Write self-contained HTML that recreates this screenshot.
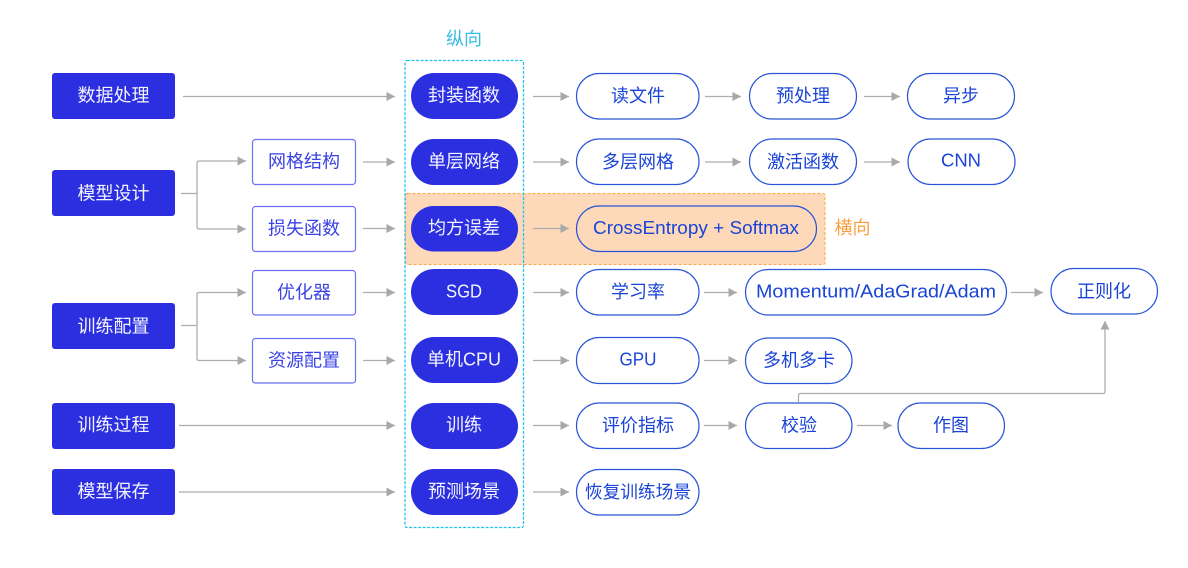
<!DOCTYPE html>
<html lang="zh">
<head>
<meta charset="utf-8">
<title>Diagram</title>
<style>
html,body{margin:0;padding:0;background:#fff;width:1188px;height:568px;overflow:hidden}
svg{display:block}
text{font-family:"Liberation Sans","Noto Sans CJK SC",sans-serif;font-size:18px;text-anchor:middle;dominant-baseline:central}
.d{fill:#2b2fe0}
.w{fill:#f4f4ff}
.b{fill:#1a44d6}
.v{fill:#3a42e6}
.p{fill:#fff;stroke:#2a55d8;stroke-width:1.2}
.po{fill:none;stroke:#2a55d8;stroke-width:1.2}
.r{fill:#fff;stroke:#6a70f0;stroke-width:1.2}
.a{fill:none;stroke:#adadad;stroke-width:1.3;marker-end:url(#m)}
</style>
</head>
<body>
<svg width="1188" height="568" viewBox="0 0 1188 568" xmlns="http://www.w3.org/2000/svg">
<defs>
<marker id="m" markerUnits="userSpaceOnUse" markerWidth="10" markerHeight="10" refX="8.500" refY="4.500" orient="auto">
<path d="M0 0L8.500 4.500L0 9Z" fill="#a8a8a8"/>
</marker>
</defs>

<!-- highlight regions -->
<rect x="405.500" y="193.500" width="419.500" height="71" rx="2" fill="#fdd9ba" stroke="#ffa544" stroke-width="1" stroke-dasharray="3 2"/>
<rect x="405" y="60.500" width="118.500" height="467" rx="2" fill="none" stroke="#22c4ee" stroke-width="1.300" stroke-dasharray="3 1.500"/>
<text x="464" y="39" fill="#35bde0">纵向</text>
<text x="852.500" y="228" fill="#fb9f3e">横向</text>

<!-- left dark boxes -->
<rect class="d" x="52" y="73" width="123" height="46" rx="3"/>
<rect class="d" x="52" y="170" width="123" height="46" rx="3"/>
<rect class="d" x="52" y="303" width="123" height="46" rx="3"/>
<rect class="d" x="52" y="403" width="123" height="46" rx="3"/>
<rect class="d" x="52" y="469" width="123" height="46" rx="3"/>
<text class="w" x="113.500" y="95.500">数据处理</text>
<text class="w" x="113.500" y="193.500">模型设计</text>
<text class="w" x="113.500" y="326.500">训练配置</text>
<text class="w" x="113.500" y="425">训练过程</text>
<text class="w" x="113.500" y="491.500">模型保存</text>

<!-- second-level boxes -->
<rect class="r" x="252.500" y="139.500" width="103" height="45" rx="3"/>
<rect class="r" x="252.500" y="206.500" width="103" height="45" rx="3"/>
<rect class="r" x="252.500" y="270.500" width="103" height="44.500" rx="3"/>
<rect class="r" x="252.500" y="338.500" width="103" height="44.500" rx="3"/>
<text class="v" x="304" y="161.500">网格结构</text>
<text class="v" x="304" y="228.500">损失函数</text>
<text class="v" x="304" y="292.500">优化器</text>
<text class="v" x="304" y="360.500">资源配置</text>

<!-- vertical column pills -->
<rect class="d" x="411" y="73" width="107" height="46" rx="23"/>
<rect class="d" x="411" y="139" width="107" height="46" rx="23"/>
<rect class="d" x="411" y="206" width="107" height="45.500" rx="22.700"/>
<rect class="d" x="411" y="269" width="107" height="46" rx="23"/>
<rect class="d" x="411" y="337" width="107" height="46" rx="23"/>
<rect class="d" x="411" y="403" width="107" height="46" rx="23"/>
<rect class="d" x="411" y="469" width="107" height="46" rx="23"/>
<text class="w" x="464" y="95.500">封装函数</text>
<text class="w" x="464" y="161.500">单层网络</text>
<text class="w" x="464" y="228">均方误差</text>
<text class="w" x="464" y="291.500" textLength="36" lengthAdjust="spacingAndGlyphs">SGD</text>
<text class="w" x="464" y="359.500">单机CPU</text>
<text class="w" x="464" y="425">训练</text>
<text class="w" x="464" y="491.500">预测场景</text>

<!-- outline pills -->
<rect class="p" x="576.500" y="73.500" width="122.500" height="45.500" rx="22.700"/>
<rect class="p" x="749.500" y="73.500" width="107" height="45.500" rx="22.700"/>
<rect class="p" x="907.500" y="73.500" width="107" height="45.500" rx="22.700"/>
<rect class="p" x="576.500" y="139" width="122.500" height="45.500" rx="22.700"/>
<rect class="p" x="749.500" y="139" width="107" height="45.500" rx="22.700"/>
<rect class="p" x="908" y="139" width="107" height="45.500" rx="22.700"/>
<rect class="po" x="576.500" y="206" width="240" height="45.500" rx="22.700"/>
<rect class="p" x="576.500" y="269.500" width="122.500" height="45.500" rx="22.700"/>
<rect class="p" x="745.500" y="269.500" width="261" height="45.500" rx="22.700"/>
<rect class="p" x="1051" y="268.500" width="106.500" height="45.500" rx="22.700"/>
<rect class="p" x="576.500" y="337.500" width="122.500" height="46" rx="22.700"/>
<rect class="p" x="745.500" y="338" width="106.500" height="45.500" rx="22.700"/>
<rect class="p" x="576.500" y="403" width="122.500" height="45.500" rx="22.700"/>
<rect class="p" x="745.500" y="403" width="106.500" height="45.500" rx="22.700"/>
<rect class="p" x="898" y="403" width="106.500" height="45.500" rx="22.700"/>
<rect class="p" x="576.500" y="469.500" width="122.500" height="45.500" rx="22.700"/>

<text class="b" x="638" y="96">读文件</text>
<text class="b" x="803" y="96">预处理</text>
<text class="b" x="961" y="96">异步</text>
<text class="b" x="638" y="162">多层网格</text>
<text class="b" x="803" y="162">激活函数</text>
<text class="b" x="961" y="160.500" textLength="40" lengthAdjust="spacingAndGlyphs">CNN</text>
<text class="b" x="696" y="228" textLength="206" lengthAdjust="spacingAndGlyphs">CrossEntropy + Softmax</text>
<text class="b" x="638" y="292">学习率</text>
<text class="b" x="876" y="291.500" textLength="240" lengthAdjust="spacingAndGlyphs">Momentum/AdaGrad/Adam</text>
<text class="b" x="1104" y="291.500">正则化</text>
<text class="b" x="638" y="359.500" textLength="37" lengthAdjust="spacingAndGlyphs">GPU</text>
<text class="b" x="799" y="360.500">多机多卡</text>
<text class="b" x="638" y="425.500">评价指标</text>
<text class="b" x="799" y="425.500">校验</text>
<text class="b" x="951" y="425.500">作图</text>
<text class="b" x="638" y="492" style="font-size:17.700px">恢复训练场景</text>

<!-- connectors -->
<path class="a" d="M183 96.500H395"/>
<path class="a" d="M533 96.500H569"/>
<path class="a" d="M705 96.500H741"/>
<path class="a" d="M864 96.500H900"/>

<path class="a" d="M363 162H395"/>
<path class="a" d="M533 162H569"/>
<path class="a" d="M705 162H741"/>
<path class="a" d="M864 162H900"/>

<path class="a" d="M363 228.500H395"/>
<path class="a" d="M533 228.500H569"/>

<path class="a" d="M363 292.500H395"/>
<path class="a" d="M533 292.500H569"/>
<path class="a" d="M704 292.500H737"/>
<path class="a" d="M1011 292.500H1043"/>

<path class="a" d="M363 360.500H395"/>
<path class="a" d="M533 360.500H569"/>
<path class="a" d="M704 360.500H737"/>

<path class="a" d="M179 425.500H395"/>
<path class="a" d="M533 425.500H569"/>
<path class="a" d="M704 425.500H737"/>
<path class="a" d="M857 425.500H892"/>

<path class="a" d="M179 492H395"/>
<path class="a" d="M533 492H569"/>

<path class="a" d="M181 193.500H197V163Q197 161 199 161H246"/>
<path class="a" d="M197 193.500V227Q197 229 199 229H246"/>
<path class="a" d="M181 325.500H197V294.500Q197 292.500 199 292.500H246"/>
<path class="a" d="M197 325.500V358.500Q197 360.500 199 360.500H246"/>
<path class="a" d="M798.500 402V395.500Q798.500 393.500 800.500 393.500H1103Q1105 393.500 1105 391.500V321"/>
</svg>
</body>
</html>
